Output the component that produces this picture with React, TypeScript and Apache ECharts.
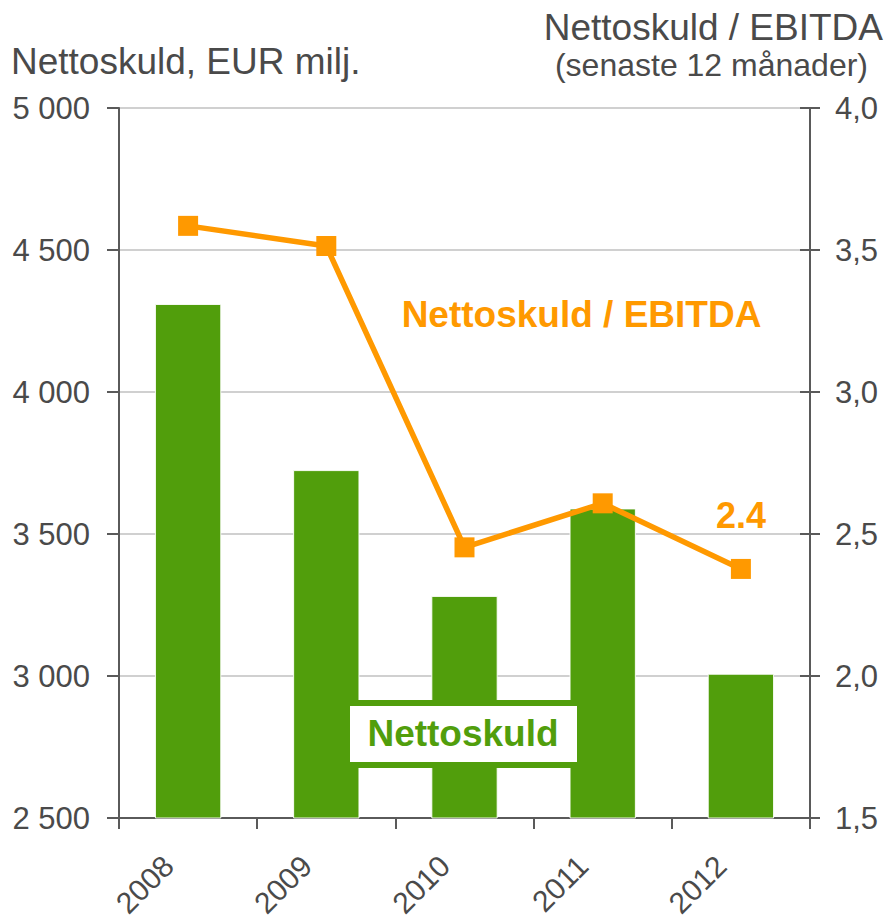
import React, { useEffect, useRef } from "react";
import * as echarts from "echarts";

const years = ["2008", "2009", "2010", "2011", "2012"];
const netDebt = [4310, 3725, 3282, 3590, 3008];
const debtToEbitda = [3.585, 3.514, 2.453, 2.608, 2.377];

const leftTitle = "Nettoskuld, EUR milj.";
const rightTitle = "Nettoskuld / EBITDA";
const rightSubtitle = "(senaste 12 månader)";
const lineLabel = "Nettoskuld / EBITDA";
const barLabel = "Nettoskuld";

const GREEN = "#519e0c";
const ORANGE = "#ff9900";
const TXT = "#4a4a4a";
const AXIS = "#5a5a5a";
const FONT = "'Liberation Sans', Arial, sans-serif";

export default function App() {
  const ref = useRef<HTMLDivElement>(null);
  useEffect(() => {
    document.body.style.margin = "0";
    const chart = echarts.init(ref.current!, null, { renderer: "svg" });
    const lastIdx = debtToEbitda.length - 1;
    chart.setOption({
      animation: false,
      backgroundColor: "#ffffff",
      textStyle: { fontFamily: FONT },
      grid: {
        left: 119,
        right: 80,
        top: 108,
        bottom: 104,
        containLabel: false,
        outerBoundsMode: "none",
      },
      xAxis: {
        type: "category",
        data: years,
        boundaryGap: true,
        axisLine: { show: true, lineStyle: { color: AXIS, width: 2 } },
        axisTick: { show: true, length: 11, lineStyle: { color: AXIS, width: 2 } },
        axisLabel: {
          rotate: 45,
          fontSize: 30,
          color: TXT,
          fontFamily: FONT,
          margin: 23,
          align: "right",
          verticalAlign: "middle",
          padding: [0, 28, 0, 0],
        },
        splitLine: { show: false },
      },
      yAxis: [
        {
          type: "value",
          position: "left",
          min: 2500,
          max: 5000,
          interval: 500,
          axisLine: { show: true, lineStyle: { color: AXIS, width: 2 } },
          axisTick: { show: true, length: 12, lineStyle: { color: AXIS, width: 2 } },
          axisLabel: {
            fontSize: 31,
            color: TXT,
            fontFamily: FONT,
            margin: 29,
            formatter: (v: number) => String(v).replace(/\B(?=(\d{3})+(?!\d))/g, " "),
          },
          splitLine: { show: true, lineStyle: { color: "#c0c0c0", width: 1.5 } },
        },
        {
          type: "value",
          position: "right",
          min: 1.5,
          max: 4,
          interval: 0.5,
          axisLine: { show: true, lineStyle: { color: AXIS, width: 2 } },
          axisTick: { show: true, length: 10, lineStyle: { color: AXIS, width: 2 } },
          axisLabel: {
            fontSize: 31,
            color: TXT,
            fontFamily: FONT,
            margin: 25,
            formatter: (v: number) => v.toFixed(1).replace(".", ","),
          },
          splitLine: { show: false },
        },
        {
          type: "value",
          position: "right",
          min: 1.5,
          max: 4,
          interval: 0.5,
          axisLine: { show: true, lineStyle: { color: AXIS, width: 2 } },
          axisTick: { show: true, inside: true, length: 10, lineStyle: { color: AXIS, width: 2 } },
          axisLabel: { show: false },
          splitLine: { show: false },
        },
      ],
      series: [
        {
          type: "bar",
          yAxisIndex: 0,
          data: netDebt,
          barWidth: "48%",
          itemStyle: { color: GREEN, borderColor: "rgba(255,255,255,0.9)", borderWidth: 1 },
          z: 2,
        },
        {
          type: "line",
          yAxisIndex: 1,
          data: debtToEbitda.map((v, i) =>
            i === lastIdx
              ? {
                  value: v,
                  label: {
                    show: true,
                    position: "top",
                    distance: 25,
                    formatter: (p: any) => Number(p.value).toFixed(1),
                    color: ORANGE,
                    fontSize: 36,
                    fontWeight: "bold",
                    fontFamily: FONT,
                  },
                }
              : v
          ),
          symbol: "rect",
          symbolSize: 20,
          lineStyle: { color: ORANGE, width: 5.5 },
          itemStyle: { color: ORANGE },
          z: 5,
        },
      ],
      graphic: [
        {
          type: "text",
          x: 11,
          y: 61,
          style: {
            text: leftTitle,
            fill: TXT,
            fontSize: 37,
            fontFamily: FONT,
            align: "left",
            verticalAlign: "middle",
          },
        },
        {
          type: "text",
          x: 883,
          y: 27.5,
          style: {
            text: rightTitle,
            fill: TXT,
            fontSize: 37,
            fontFamily: FONT,
            align: "right",
            verticalAlign: "middle",
          },
        },
        {
          type: "text",
          x: 868,
          y: 64.5,
          style: {
            text: rightSubtitle,
            fill: TXT,
            fontSize: 32,
            fontFamily: FONT,
            align: "right",
            verticalAlign: "middle",
          },
        },
        {
          type: "text",
          x: 581.5,
          y: 314.5,
          z: 10,
          style: {
            text: lineLabel,
            fill: ORANGE,
            fontSize: 37,
            fontWeight: "bold",
            fontFamily: FONT,
            align: "center",
            verticalAlign: "middle",
          },
        },
        {
          type: "rect",
          z: 10,
          shape: { x: 347, y: 703, width: 233, height: 62 },
          style: { fill: "#ffffff", stroke: GREEN, lineWidth: 6 },
        },
        {
          type: "text",
          x: 463,
          y: 733,
          z: 11,
          style: {
            text: barLabel,
            fill: GREEN,
            fontSize: 37,
            fontWeight: "bold",
            fontFamily: FONT,
            align: "center",
            verticalAlign: "middle",
          },
        },
      ],
    });
    return () => chart.dispose();
  }, []);
  return <div ref={ref} style={{ width: 890, height: 922, overflow: "hidden" }} />;
}
